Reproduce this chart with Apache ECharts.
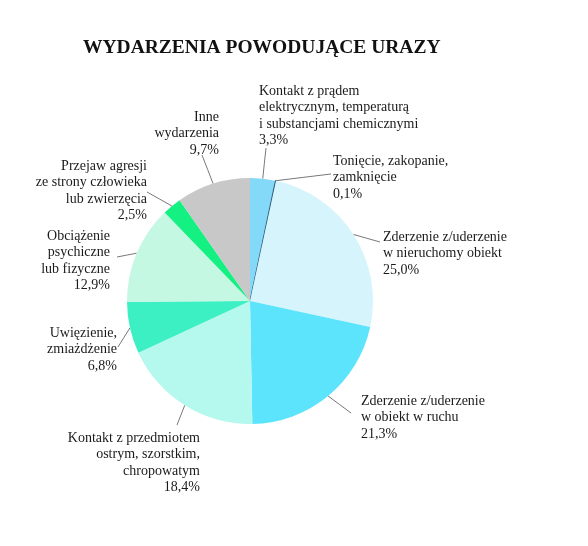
<!DOCTYPE html>
<html>
<head>
<meta charset="utf-8">
<script src="https://cdn.jsdelivr.net/npm/echarts@6/dist/echarts.min.js"></script>
<style>
    html, body { margin: 0; padding: 0; background: #fff; }
    #chart { width: 588px; height: 546px; }
</style>
</head>
<body>
<div id="chart"></div>
<script>
const categories = [
    "Kontakt z prądem\nelektrycznym, temperaturą\ni substancjami chemicznymi",
    "Tonięcie, zakopanie,\nzamknięcie",
    "Zderzenie z/uderzenie\nw nieruchomy obiekt",
    "Zderzenie z/uderzenie\nw obiekt w ruchu",
    "Kontakt z przedmiotem\nostrym, szorstkim,\nchropowatym",
    "Uwięzienie,\nzmiażdżenie",
    "Obciążenie\npsychiczne\nlub fizyczne",
    "Przejaw agresji\nze strony człowieka\nlub zwierzęcia",
    "Inne\nwydarzenia"
];
const shares = [3.3, 0.1, 25.0, 21.3, 18.4, 6.8, 12.9, 2.5, 9.7];
const colors = ["#84d8f8", "#1f4f6f", "#d6f4fc", "#5ce4fc", "#b4f8ee", "#3cf0c4", "#c4f8e2", "#14f082", "#c8c8c8"];

// label placement: [x, y, align, leader end dx, leader end dy]
const labelPos = [
    [259, 83, "left", 7, 65],
    [333, 153, "left", -2, 21],
    [383, 229, "left", -3, 13],
    [361, 393, "left", -10, 20],
    [200, 430, "right", -23, -5],
    [117, 325, "right", 1, 22],
    [110, 228, "right", 7, 29],
    [147, 158, "right", 0, 34],
    [219, 109, "right", -17, 46]
];

const chart = echarts.init(document.getElementById("chart"));

chart.setOption({
    backgroundColor: "#fff",
    animation: false,
    title: {
        text: "WYDARZENIA POWODUJĄCE URAZY",
        left: 78,
        top: 33,
        textStyle: {
            fontFamily: "Liberation Serif",
            fontWeight: "bold",
            fontSize: 19.5,
            color: "#111"
        }
    },
    series: [{
        type: "pie",
        center: [250, 301],
        radius: 123,
        startAngle: 90,
        clockwise: true,
        avoidLabelOverlap: false,
        data: categories.map((name, i) => ({
            name: name,
            value: shares[i],
            itemStyle: {
                color: colors[i],
                borderColor: i === 1 ? colors[i] : "transparent",
                borderWidth: i === 1 ? 0.6 : 0
            }
        })),
        label: {
            show: true,
            fontFamily: "Liberation Serif",
            fontSize: 14,
            lineHeight: 16.5,
            color: "#1a1a1a",
            formatter: p => p.name + "\n" + p.value.toFixed(1).replace(".", ",") + "%"
        },
        labelLine: {
            show: true,
            length: 10,
            length2: 10,
            lineStyle: { color: "#555", width: 0.8 }
        },
        labelLayout: function (params) {
            const pos = labelPos[params.dataIndex];
            const out = {
                x: pos[0],
                y: pos[1],
                align: pos[2],
                verticalAlign: "top"
            };
            const start = params.labelLinePoints && params.labelLinePoints[0];
            if (start) {
                const end = [pos[0] + pos[3], pos[1] + pos[4]];
                out.labelLinePoints = [start, [(start[0] + end[0]) / 2, (start[1] + end[1]) / 2], end];
            }
            return out;
        }
    }]
});
</script>
</body>
</html>
